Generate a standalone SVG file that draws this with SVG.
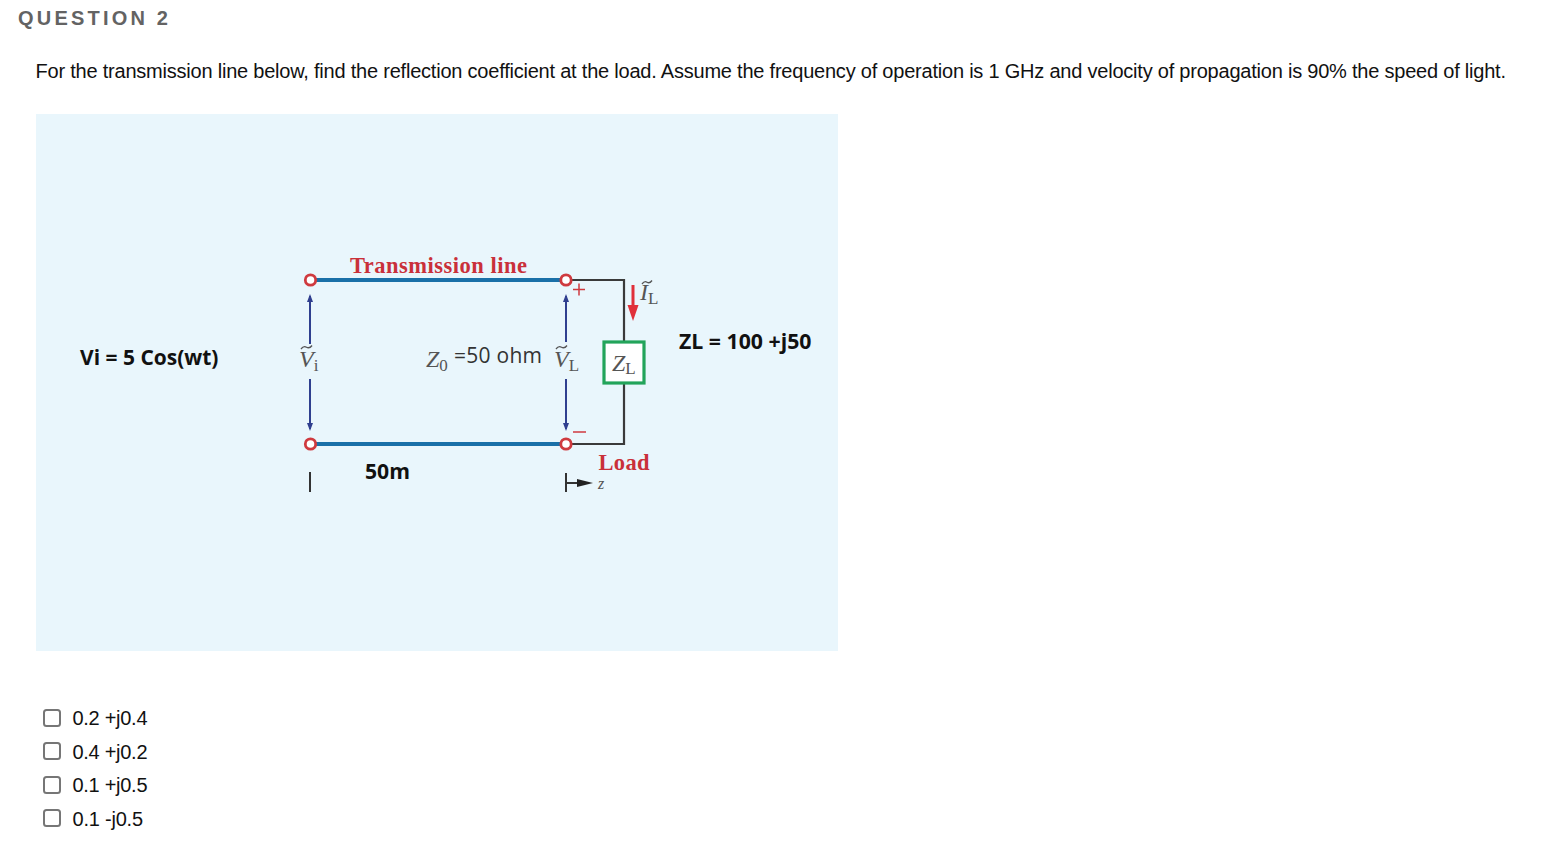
<svg xmlns="http://www.w3.org/2000/svg" width="1543" height="865" viewBox="0 0 1543 865">
<defs>
<marker id="ab" markerWidth="8" markerHeight="10" refX="6" refY="3" orient="auto" markerUnits="userSpaceOnUse" viewBox="0 0 8 6"><path d="M0 0L8 3L0 6Z" fill="#2f3f8f"/></marker>
</defs>
<style>
.ui{font-family:"Liberation Sans",Arial,sans-serif;fill:#111}
.opt{font-size:20px}
.ser{font-family:"Liberation Serif","Times New Roman",serif}
.red{fill:#c9303a;font-weight:bold;font-size:22.5px}
.sym{fill:#555;font-style:italic;font-size:24px}
.sub{fill:#555;font-size:17px;font-style:normal}
.lab{font-family:"Open Sans","Noto Sans",sans-serif;font-weight:700;font-size:20.5px;fill:#111}
.tl{stroke:#1a70a8;stroke-width:4;fill:none}
.wire{stroke:#3a3a3a;stroke-width:2.2;fill:none}
.term{fill:#fff;stroke:#cf3a3f;stroke-width:2.800}
.vlt{stroke:#2f3f8f;stroke-width:2;fill:none;marker-end:url(#ab)}
.cb{fill:#fff;stroke:#767676;stroke-width:2}
.tilde{stroke:#555;stroke-width:1.300;fill:none}
</style>
<rect width="1543" height="865" fill="#fff"/>
<text class="ui" x="18" y="24.500" font-size="20" font-weight="bold" letter-spacing="3.200" style="fill:#636363">QUESTION 2</text>
<text class="ui" x="35.500" y="78" font-size="20" textLength="1470.500" lengthAdjust="spacing">For the transmission line below, find the reflection coefficient at the load. Assume the frequency of operation is 1 GHz and velocity of propagation is 90% the speed of light.</text>
<rect x="36" y="114" width="802" height="537" fill="#e9f6fc"/>
<g id="connectors">
<path class="tl" d="M310 280H566M310 444H566"/>
<path class="wire" d="M566 280H624V342M624 384V444H566"/>
<path class="vlt" d="M310 344V296"/>
<path class="vlt" d="M310 379V429"/>
<path class="vlt" d="M566 342V296"/>
<path class="vlt" d="M566 379V429"/>
<path d="M633 285V306" stroke="#e0303a" stroke-width="3" fill="none"/>
<path d="M627.500 305H638.500L633 321Z" fill="#e0303a"/>
<path d="M310 472V492" stroke="#333" stroke-width="2" fill="none"/>
<path d="M566 473V492M566 483H580" stroke="#333" stroke-width="2" fill="none"/>
<path d="M577 479L593 483L577 487Z" fill="#222"/>
</g>
<g id="terminals">
<circle class="term" cx="310.500" cy="280" r="5.200"/>
<circle class="term" cx="566" cy="280" r="5.200"/>
<circle class="term" cx="310.500" cy="444" r="5.200"/>
<circle class="term" cx="566" cy="444" r="5.200"/>
</g>
<g id="load">
<rect x="604" y="342" width="40" height="41" fill="#fff" stroke="#22a45a" stroke-width="3.200"/>
<text class="ser sym" x="612" y="371">Z<tspan class="sub" dy="3">L</tspan></text>
</g>
<g id="labels">
<text class="ser red" x="350" y="273" textLength="177" lengthAdjust="spacing">Transmission line</text>
<text class="ser red" x="598.500" y="470" textLength="51" lengthAdjust="spacing">Load</text>
<text class="ser sym" x="299" y="367">V<tspan class="sub" dy="4" font-size="15">i</tspan></text>
<path class="tilde" d="M301 349q2.500 -3.500 5.500 -1.800t5.500 -1.700"/>
<text class="ser sym" x="426" y="367">Z<tspan class="sub" dy="4">0</tspan></text>
<text x="454" y="363" font-family="'Open Sans','Noto Sans',sans-serif" font-size="21" textLength="88" fill="#333">=50 ohm</text>
<text class="ser sym" x="554" y="367">V<tspan class="sub" dy="4">L</tspan></text>
<path class="tilde" d="M556 349q2.500 -3.500 5.500 -1.800t5.500 -1.700"/>
<text class="ser sym" x="640" y="300">I<tspan class="sub" dy="4">L</tspan></text>
<path class="tilde" d="M642 284q2.500 -3.500 5 -1.800t5 -1.700"/>
<path d="M579 283.500V295.500M573 289.500H585M573 432H586" stroke="#cf3a3f" stroke-width="1.500" fill="none"/>
<text class="ser sym" x="598" y="489" style="font-size:16px">z</text>
<text class="lab" x="80" y="365" textLength="138.500" lengthAdjust="spacingAndGlyphs">Vi = 5 Cos(wt)</text>
<text class="lab" x="365" y="479" textLength="45" lengthAdjust="spacingAndGlyphs">50m</text>
<text class="lab" x="679" y="349" textLength="132.500" lengthAdjust="spacingAndGlyphs">ZL = 100 +j50</text>
</g>
<g id="options">
<rect class="cb" x="44" y="710" width="16" height="16" rx="2.500"/><text class="ui opt" x="72.500" y="725" textLength="75">0.2 +j0.4</text>
<rect class="cb" x="44" y="743" width="16" height="16" rx="2.500"/><text class="ui opt" x="72.500" y="759" textLength="75">0.4 +j0.2</text>
<rect class="cb" x="44" y="777" width="16" height="16" rx="2.500"/><text class="ui opt" x="72.500" y="792" textLength="75">0.1 +j0.5</text>
<rect class="cb" x="44" y="810" width="16" height="16" rx="2.500"/><text class="ui opt" x="72.500" y="826" textLength="70.500">0.1 -j0.5</text>
</g>
</svg>
